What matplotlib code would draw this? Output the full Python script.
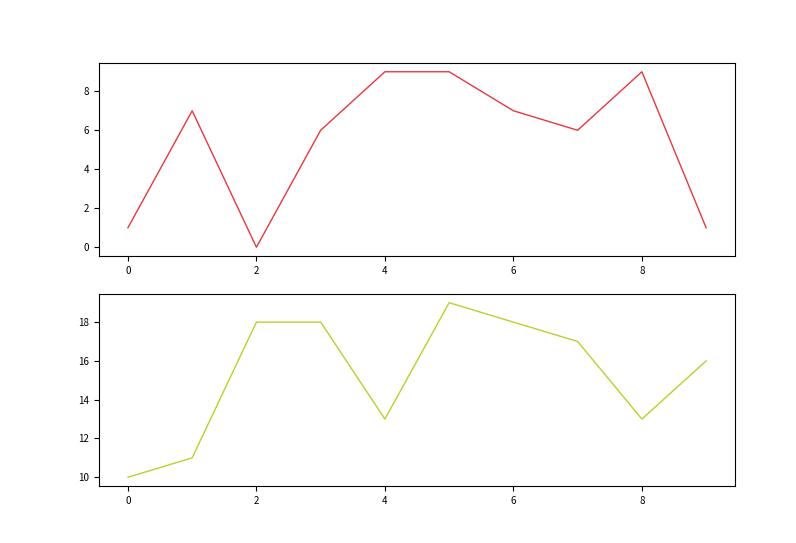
import matplotlib
matplotlib.use("Agg")
import matplotlib.pyplot as plt

plt.rcParams['font.family'] = ['Noto Sans CJK SC', 'DejaVu Sans']
plt.rcParams['font.size'] = 7

x = list(range(10))
top_vals = [1, 7, 0, 6, 9, 9, 7, 6, 9, 1]
bottom_vals = [10, 11, 18, 18, 13, 19, 18, 17, 13, 16]

fig = plt.figure(figsize=(7.96, 5.43), dpi=100)
ax1 = fig.add_axes([0.1244, 0.5285, 0.799, 0.3555])
ax2 = fig.add_axes([0.1244, 0.105, 0.799, 0.3536])

ax1.plot(x, top_vals, color='#e8383d', linewidth=1)
ax2.plot(x, bottom_vals, color='#bccf2c', linewidth=1)

for ax in (ax1, ax2):
    ax.set_xticks([0, 2, 4, 6, 8])
    for s in ax.spines.values():
        s.set_linewidth(0.8)

ax1.set_yticks([0, 2, 4, 6, 8])
ax2.set_yticks([10, 12, 14, 16, 18])

fig.savefig("out.png", dpi=100)
